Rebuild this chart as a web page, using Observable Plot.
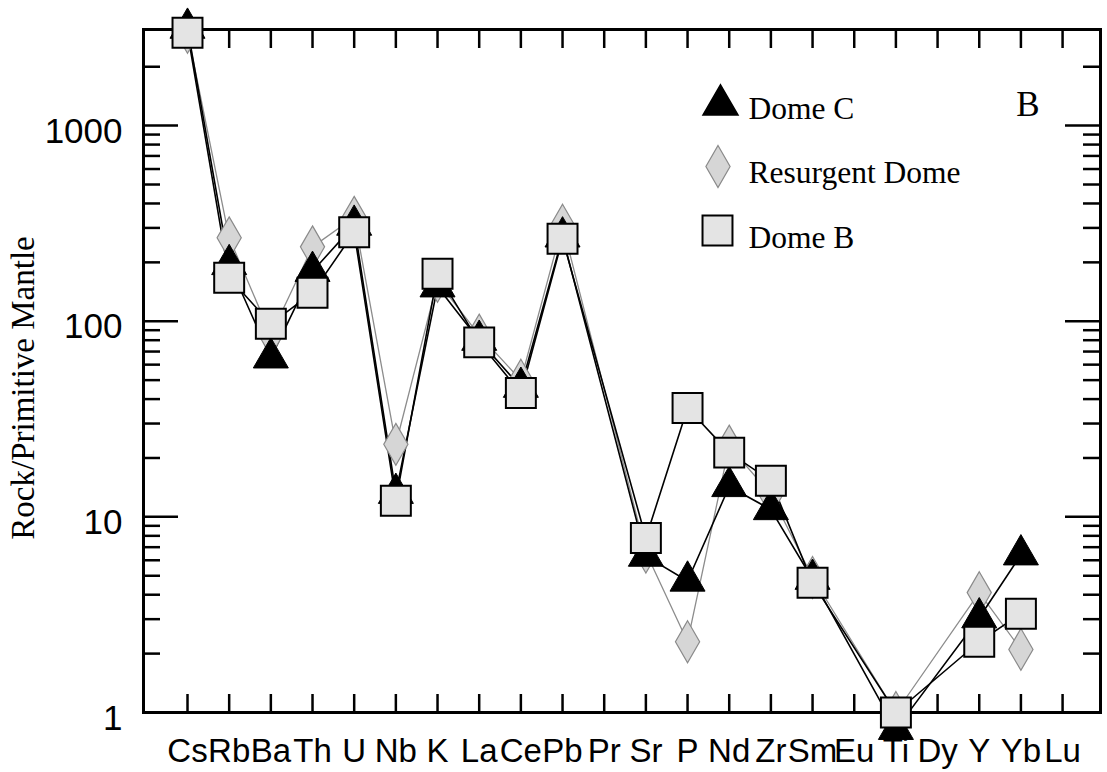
<!DOCTYPE html>
<html>
<head>
<meta charset="utf-8">
<script src="https://cdn.jsdelivr.net/npm/d3@7"></script>
<script src="https://cdn.jsdelivr.net/npm/@observablehq/plot@0.6"></script>
<style>
  html, body { margin: 0; padding: 0; background: white; }
  #chart svg { display: block; }
</style>
</head>
<body>
<div id="chart"></div>
<script>
// Element categories (x axis)
const elements = ["Cs","Rb","Ba","Th","U","Nb","K","La","Ce","Pb","Pr","Sr","P","Nd","Zr","Sm","Eu","Ti","Dy","Y","Yb","Lu"];

// Rock / Primitive Mantle values (null = not measured)
const domeC     = [3150, 195, 65, 180, 310, 13.2, 150, 80, 46, 270, null, 6.3, 4.7, 14.3, 10.9, 4.8, null, 0.82, null, 3.05, 6.4, null];
const resurgent = [3000, 267, 85, 240, 340, 23.5, 160, 85, 50, 310, null, 6.6, 2.3, 23, 13, 4.9, null, 1.0, null, 4.1, 2.1, null];
const domeB     = [2985, 167, 97, 140, 285, 12.1, 175, 78, 43, 264, null, 7.8, 36, 21.3, 15.3, 4.6, null, 1.0, null, 2.3, 3.2, null];

// Legend and tick labels
const seriesNames = ["Dome C", "Resurgent Dome", "Dome B"];
const panelLabel = ["B"];
const yTitle = ["Rock/Primitive Mantle"];
const majorY = [1, 10, 100, 1000];
const minorY = [2,3,4,5,6,7,8,9,20,30,40,50,60,70,80,90,200,300,400,500,600,700,800,900,2000];

const rows = vals => elements.map((e, i) => ({i, e, v: vals[i]})).filter(d => d.v != null);
const idx = elements.map((e, i) => i);

const W = 1107, H = 772, ML = 143, MR = 7, MT = 29, MB = 60;
const PW = W - ML - MR, PH = H - MT - MB;
const sans = "Liberation Sans, Arial, sans-serif";
const serif = "Liberation Serif, Times New Roman, serif";

const chart = Plot.plot({
  width: W, height: H,
  marginLeft: ML, marginRight: MR, marginTop: MT, marginBottom: MB,
  style: {background: "white", color: "black"},
  x: {type: "linear", domain: [-1.056, 21.91], axis: null, label: null},
  y: {type: "log", domain: [1, 3100], axis: null, label: null},
  marks: [
    // tick labels
    Plot.axisX(idx, {label: null, tickSize: 0, tickPadding: 26, tickFormat: i => elements[i], fontSize: 33, fontFamily: sans, fill: "black"}),
    Plot.axisY(majorY, {label: null, tickSize: 0, tickPadding: 21, tickFormat: d => String(d), fontSize: 35, fontFamily: sans, dy: 6, fill: "black"}),
    // inward ticks, left & right
    Plot.tickY(majorY, {stroke: "black", strokeWidth: 2.5, insetRight: PW - 35}),
    Plot.tickY(majorY, {stroke: "black", strokeWidth: 2.5, insetLeft: PW - 35}),
    Plot.tickY(minorY, {stroke: "black", strokeWidth: 2.5, insetRight: PW - 17}),
    Plot.tickY(minorY, {stroke: "black", strokeWidth: 2.5, insetLeft: PW - 17}),
    // inward ticks, bottom & top
    Plot.tickX(idx, {stroke: "black", strokeWidth: 2.5, insetTop: PH - 18}),
    Plot.tickX(idx, {stroke: "black", strokeWidth: 2.5, insetBottom: PH - 19}),
    Plot.frame({stroke: "black", strokeWidth: 3}),
    // y title
    Plot.text(yTitle, {frameAnchor: "left", rotate: -90, dx: -120, dy: 17, fontSize: 33, fontFamily: serif, textAnchor: "middle", lineAnchor: "middle", fill: "black"}),
    // series lines
    Plot.line(rows(resurgent), {x: "i", y: "v", stroke: "#8c8c8c", strokeWidth: 1.3}),
    Plot.line(rows(domeC), {x: "i", y: "v", stroke: "black", strokeWidth: 1.6}),
    Plot.line(rows(domeB), {x: "i", y: "v", stroke: "black", strokeWidth: 1.6}),
    // markers
    Plot.dot(rows(resurgent), {x: "i", y: "v", symbol: "diamond", r: 12.7, fill: "#d6d6d6", stroke: "#8a8a8a", strokeWidth: 1.2}),
    Plot.dot(rows(domeC), {x: "i", y: "v", symbol: "triangle", r: 13, fill: "black", stroke: "black", strokeWidth: 1}),
    Plot.dot(rows(domeB), {x: "i", y: "v", symbol: "square", r: 16.9, fill: "#e4e4e4", stroke: "black", strokeWidth: 2}),
    // legend
    Plot.dot([seriesNames[0]], {frameAnchor: "top-left", dx: 577, dy: 75.5, symbol: "triangle", r: 13, fill: "black", stroke: "black"}),
    Plot.dot([seriesNames[1]], {frameAnchor: "top-left", dx: 574.5, dy: 137, symbol: "diamond", r: 12.7, fill: "#d6d6d6", stroke: "#8a8a8a", strokeWidth: 1.2}),
    Plot.dot([seriesNames[2]], {frameAnchor: "top-left", dx: 574, dy: 201, symbol: "square", r: 16.9, fill: "#e4e4e4", stroke: "black", strokeWidth: 2}),
    Plot.text([seriesNames[0]], {frameAnchor: "top-left", dx: 605, dy: 89, text: d => d, textAnchor: "start", lineAnchor: "bottom", fontSize: 31.5, fontFamily: serif, fill: "black"}),
    Plot.text([seriesNames[1]], {frameAnchor: "top-left", dx: 605, dy: 153, text: d => d, textAnchor: "start", lineAnchor: "bottom", fontSize: 31.5, fontFamily: serif, fill: "black"}),
    Plot.text([seriesNames[2]], {frameAnchor: "top-left", dx: 605, dy: 218, text: d => d, textAnchor: "start", lineAnchor: "bottom", fontSize: 31.5, fontFamily: serif, fill: "black"}),
    Plot.text(panelLabel, {frameAnchor: "top-right", dx: -72.5, dy: 86, text: d => d, textAnchor: "middle", lineAnchor: "bottom", fontSize: 35, fontFamily: serif, fill: "black"})
  ]
});
document.getElementById("chart").appendChild(chart);
</script>
</body>
</html>
